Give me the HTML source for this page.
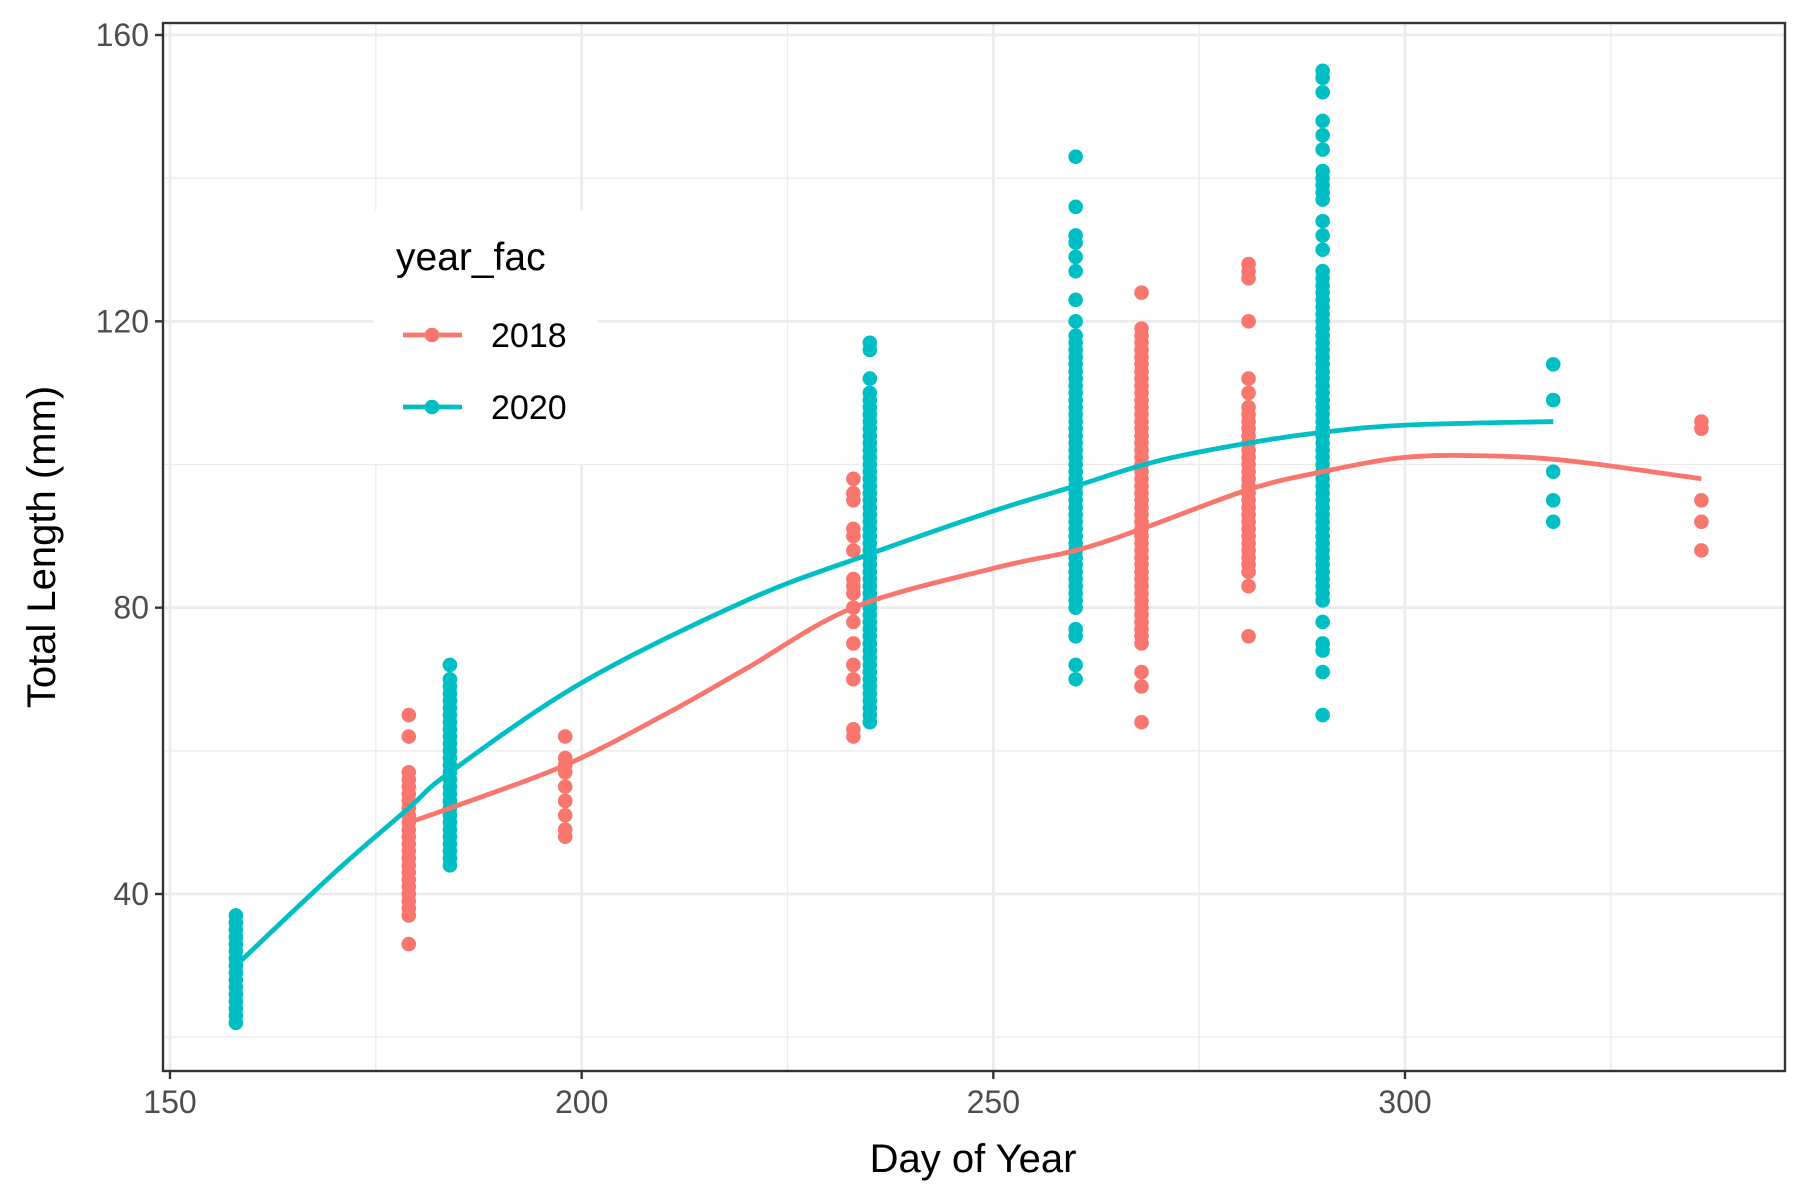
<!DOCTYPE html>
<html><head><meta charset="utf-8"><style>
html,body{margin:0;padding:0;background:#fff;}
svg{display:block;font-family:"Liberation Sans",Arial,sans-serif;}
</style></head><body>
<svg id="chart" width="1800" height="1200" viewBox="0 0 1800 1200"></svg>
<script>
const xTicks=[150,200,250,300];
const xMinor=[175,225,275,325];
const yTicks=[40,80,120,160];
const yMinor=[20,60,100,140];
const pts2018Days=[179,198,233,268,281,336];
const pts2018Vals=[
 [33,37,38,39,40,41,42,43,44,45,46,47,48,49,50,51,52,53,54,55,56,57,62,65],
 [48,49,51,53,55,57,58,59,62],
 [62,63,70,72,75,78,80,82,83,84,88,90,91,95,96,98],
 [64,69,71,75,76,77,78,79,80,81,82,83,84,85,86,87,88,89,90,91,92,93,94,95,96,97,98,99,100,101,102,103,104,105,106,107,108,109,110,111,112,113,114,115,116,117,118,119,124],
 [76,83,85,86,87,88,89,90,91,92,93,94,95,96,97,98,99,100,101,102,103,104,105,106,107,108,110,112,120,126,127,128],
 [88,92,95,105,106]];
const pts2020Days=[158,184,235,260,290,318];
const pts2020Vals=[
 [22,23,24,25,26,27,28,29,30,31,32,33,34,35,36,37],
 [44,45,46,47,48,49,50,51,52,53,54,55,56,57,58,59,60,61,62,63,64,65,66,67,68,69,70,72],
 [64,65,66,67,68,69,70,71,72,73,74,75,76,77,78,79,80,81,82,83,84,85,86,87,88,89,90,91,92,93,94,95,96,97,98,99,100,101,102,103,104,105,106,107,108,109,110,112,116,117],
 [70,72,76,77,80,81,82,83,84,85,86,87,88,89,90,91,92,93,94,95,96,97,98,99,100,101,102,103,104,105,106,107,108,109,110,111,112,113,114,115,116,117,118,120,123,127,129,131,132,136,143],
 [65,71,74,75,78,81,82,83,84,85,86,87,88,89,90,91,92,93,94,95,96,97,98,99,100,101,102,103,104,105,106,107,108,109,110,111,112,113,114,115,116,117,118,119,120,121,122,123,124,125,126,127,130,132,134,137,138,139,140,141,144,146,148,152,154,155],
 [92,95,99,109,114]];
const fit2018Days=[179,184,198,210,220,233,250,260,268,281,290,300,310,320,336];
const fit2018Vals=[50,52,58,65,71.5,80,85.5,88,91,96.5,99,101,101.2,100.5,98];
const fit2020Days=[158,170,179,184,200,220,235,250,260,270,281,290,300,318];
const fit2020Vals=[30,43,52,57,69.5,81,87.5,93.5,97,100.5,103,104.5,105.5,106];
const RED="#F8766D",CYAN="#00BFC4";
const L=163,R=1785,T=23,B=1071;
const X=d=>170+(d-150)*(1405-170)/150;
const Y=v=>894-(v-40)*(894-35)/120;
const svg=document.getElementById('chart');
const NS="http://www.w3.org/2000/svg";
function mk(tag,attrs,parent){const e=document.createElementNS(NS,tag);for(const k in attrs)e.setAttribute(k,attrs[k]);(parent||svg).appendChild(e);return e;}
mk('rect',{x:L,y:T,width:R-L,height:B-T,fill:'#fff'});
xMinor.forEach(d=>{const e=mk('line',{x1:X(d),x2:X(d),y1:T,y2:B,stroke:'#ebebeb','stroke-width':1.3});

});
yMinor.forEach(v=>{const e=mk('line',{x1:L,x2:R,y1:Y(v),y2:Y(v),stroke:'#ebebeb','stroke-width':1.3});

});
xTicks.forEach(d=>{const e=mk('line',{x1:X(d),x2:X(d),y1:T,y2:B,stroke:'#ebebeb','stroke-width':2.8});

});
yTicks.forEach(v=>{const e=mk('line',{x1:L,x2:R,y1:Y(v),y2:Y(v),stroke:'#ebebeb','stroke-width':2.8});

});
function drawPts(days,vals,col,name){const g=mk('g',{});


days.forEach((d,i)=>vals[i].forEach(v=>{const c=mk('circle',{cx:X(d),cy:Y(v),r:7.3,fill:col},g);

}));}
drawPts(pts2018Days,pts2018Vals,RED,'points-2018');
drawPts(pts2020Days,pts2020Vals,CYAN,'points-2020');
function smoothPath(P){let d='M'+P[0][0]+','+P[0][1];
for(let i=0;i<P.length-1;i++){const p0=P[Math.max(0,i-1)],p1=P[i],p2=P[i+1],p3=P[Math.min(P.length-1,i+2)];
const c1=[p1[0]+(p2[0]-p0[0])/6,p1[1]+(p2[1]-p0[1])/6],c2=[p2[0]-(p3[0]-p1[0])/6,p2[1]-(p3[1]-p1[1])/6];
d+=' C'+c1[0]+','+c1[1]+' '+c2[0]+','+c2[1]+' '+p2[0]+','+p2[1];}return d;}
function drawFit(days,vals,col,name){const p=mk('path',{d:smoothPath(days.map((d,i)=>[X(d),Y(vals[i])])),fill:'none',stroke:col,'stroke-width':4.8,'stroke-linejoin':'round'});

}
drawFit(fit2018Days,fit2018Vals,RED,'fit-line-2018');
drawFit(fit2020Days,fit2020Vals,CYAN,'fit-line-2020');
const border=mk('rect',{x:L,y:T,width:R-L,height:B-T,fill:'none',stroke:'#333','stroke-width':2.4});


xTicks.forEach(d=>{mk('line',{x1:X(d),x2:X(d),y1:B,y2:B+8,stroke:'#333','stroke-width':2.4});
const t=mk('text',{x:X(d),y:B+42,'text-anchor':'middle','font-size':32,fill:'#4d4d4d'});t.textContent=d;

});
yTicks.forEach(v=>{mk('line',{x1:L-8,x2:L,y1:Y(v),y2:Y(v),stroke:'#333','stroke-width':2.4});
const t=mk('text',{x:L-14,y:Y(v)+11,'text-anchor':'end','font-size':32,fill:'#4d4d4d'});t.textContent=v;

});
</script>
<svg width="1800" height="1200" style="position:absolute;left:0;top:0">
<text x="973" y="1172" text-anchor="middle" font-size="40" font-family="Liberation Sans,sans-serif" fill="#000">Day of Year</text>
<text transform="translate(55,547) rotate(-90)" text-anchor="middle" font-size="40" font-family="Liberation Sans,sans-serif" fill="#000">Total Length (mm)</text>
<g>
<rect x="373" y="210" width="225" height="254" fill="#fff"/>
<text x="396" y="270" font-size="39" font-family="Liberation Sans,sans-serif">year_fac</text>
<g>
<line x1="403" x2="462" y1="335" y2="335" stroke="#F8766D" stroke-width="4.8"/><circle cx="432" cy="335" r="7.3" fill="#F8766D"/>
<text x="491" y="347" font-size="34" font-family="Liberation Sans,sans-serif">2018</text></g>
<g>
<line x1="403" x2="462" y1="407" y2="407" stroke="#00BFC4" stroke-width="4.8"/><circle cx="432" cy="407" r="7.3" fill="#00BFC4"/>
<text x="491" y="419" font-size="34" font-family="Liberation Sans,sans-serif">2020</text></g>
</g>
</svg>
</body></html>
